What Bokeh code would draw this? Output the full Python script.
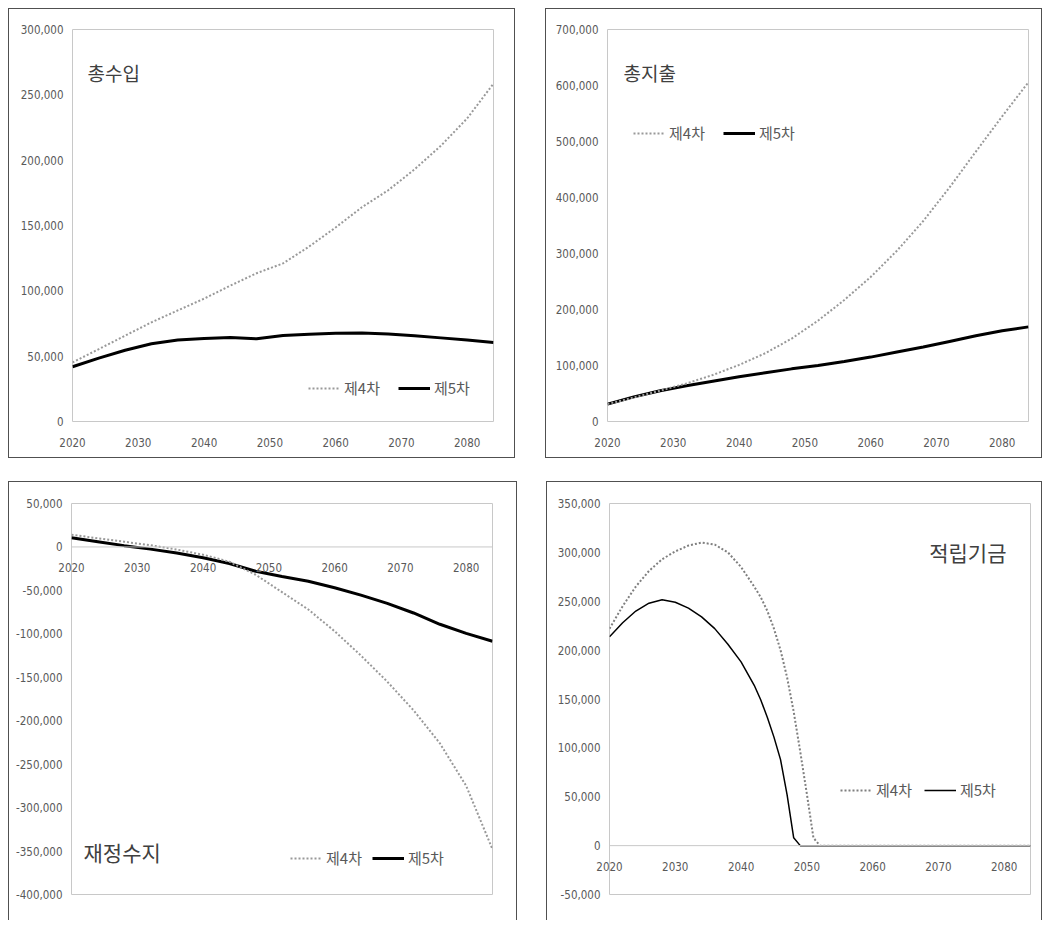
from bokeh.plotting import figure
from bokeh.models import (Range1d, FixedTicker, NumeralTickFormatter, Span, Label,
                          Legend, LegendItem)
from bokeh.layouts import row, column
from bokeh.embed import file_html
from bokeh.resources import INLINE

# ---------------- data ----------------
years = [2020, 2024, 2028, 2032, 2036, 2040, 2044, 2048, 2052, 2056, 2060,
         2064, 2068, 2072, 2076, 2080, 2084]

revenue_4th = [45200, 55400, 65700, 75900, 85000, 94000, 104000, 113500, 121000,
               134000, 148500, 164000, 177000, 193000, 211000, 232000, 258600]
revenue_5th = [41900, 48500, 54500, 59500, 62300, 63600, 64300, 63300, 65800,
               66700, 67500, 67700, 66900, 65600, 64000, 62300, 60500]

expenditure_4th = [31000, 43000, 55000, 68000, 83000, 101000, 122000, 148000, 180000,
                   217000, 258000, 305000, 358000, 418000, 482000, 545000, 606000]
expenditure_5th = [31000, 44000, 55000, 64000, 72000, 80000, 87000, 94000, 100000,
                   107000, 115000, 124000, 133000, 143000, 153000, 162000, 169000]

balance_4th = [14000, 10000, 6000, 2000, -3000, -9000, -17000, -32000, -52000,
               -72000, -97000, -125000, -155000, -188000, -226000, -275000, -348000]
balance_5th = [10500, 6000, 1500, -2500, -7000, -12500, -19000, -28000, -34000,
               -39500, -47000, -55500, -65000, -76000, -89000, -99500, -108500]

fund_years = [2020, 2022, 2024, 2026, 2028, 2030, 2032, 2034, 2036, 2038, 2040,
              2042, 2043, 2044, 2045, 2046, 2047, 2048, 2049, 2050, 2051, 2052, 2084]
fund_4th = [222000, 245000, 265000, 281000, 293000, 301000, 307000, 310000, 308000,
            300000, 285000, 265000, 254000, 240000, 222000, 200000, 172000, 137000,
            96000, 53000, 8000, 0, 0]
fund_5th = [213600, 228000, 240000, 248000, 251500, 249000, 243000, 234000, 222000,
            206000, 188000, 164000, 149000, 131000, 111000, 88000, 52000, 8000,
            0, 0, 0, 0, 0]

x_ticks = [2020, 2030, 2040, 2050, 2060, 2070, 2080]
x_tick_labels = ["2020", "2030", "2040", "2050", "2060", "2070", "2080"]
x_range_end = 2084

revenue_y_ticks = [0, 50000, 100000, 150000, 200000, 250000, 300000]
expenditure_y_ticks = [0, 100000, 200000, 300000, 400000, 500000, 600000, 700000]
balance_y_ticks = [-400000, -350000, -300000, -250000, -200000, -150000, -100000,
                   -50000, 0, 50000]
fund_y_ticks = [-50000, 0, 50000, 100000, 150000, 200000, 250000, 300000, 350000]

series_labels = ["제4차", "제5차"]
titles = ["총수입", "총지출", "재정수지", "적립기금"]

# ---------------- style ----------------
TICK_FONT = "Liberation Sans Narrow, DejaVu Sans Condensed, sans-serif"
KR_FONT = "Noto Sans CJK KR"
TICK_COLOR = "#595959"
DOT_COLOR = "#999999"
X_LABEL_GAP = 16


def make_panel(w, h, mbl, mbr, mbt, mbb, y_ticks, axis_at_zero, bottom_border=True):
    y0, y1 = min(y_ticks), max(y_ticks)
    p = figure(width=w, height=h, output_backend="svg", toolbar_location=None,
               x_range=Range1d(years[0], x_range_end),
               y_range=Range1d(y0, y1),
               min_border_left=mbl, min_border_right=mbr,
               min_border_top=mbt, min_border_bottom=mbb)
    p.background_fill_color = "white"
    p.border_fill_color = "white"
    p.outline_line_color = "#c8c8c8"
    p.outline_line_width = 1
    p.xgrid.visible = False
    p.ygrid.visible = False
    for ax in (p.xaxis[0], p.yaxis[0]):
        ax.axis_line_color = None
        ax.major_tick_line_color = None
        ax.minor_tick_line_color = None
        ax.major_tick_out = 0
        ax.major_tick_in = 0
        ax.major_label_text_font = TICK_FONT
        ax.major_label_text_font_size = "11.5px"
        ax.major_label_text_color = TICK_COLOR
    p.yaxis.ticker = FixedTicker(ticks=y_ticks)
    p.yaxis.formatter = NumeralTickFormatter(format="0,0")
    p.yaxis.major_label_standoff = 9
    p.xaxis.ticker = FixedTicker(ticks=x_ticks)
    p.xaxis.major_label_overrides = {t: l for t, l in zip(x_ticks, x_tick_labels)}
    p.xaxis.major_label_standoff = X_LABEL_GAP
    if axis_at_zero:
        # the category labels sit just under the zero line, as in the original
        frame_h = h - mbt - mbb
        zero_px = round(frame_h * (0 - y0) / (y1 - y0))
        p.xaxis.major_label_standoff = X_LABEL_GAP - zero_px
        p.add_layout(Span(location=0, dimension="width", line_color="#c8c8c8",
                          line_width=1))
    st = {"border": "1px solid #505050"}
    if not bottom_border:
        st["border-bottom"] = "none"
    p.styles = st
    return p


def add_series(p, xs, y4, y5, w5, legend_xy, spacing, dot_color=DOT_COLOR):
    r5 = p.line(xs, y5, line_color="black", line_width=w5)
    r4 = p.line(xs, y4, line_color=dot_color, line_width=2, line_dash="2 2")
    leg = Legend(items=[LegendItem(label=series_labels[0], renderers=[r4]),
                        LegendItem(label=series_labels[1], renderers=[r5])],
                 location=legend_xy, orientation="horizontal",
                 glyph_width=32, glyph_height=20, label_standoff=4,
                 spacing=spacing, padding=0, margin=0,
                 border_line_color=None, background_fill_alpha=0,
                 label_text_font=KR_FONT, label_text_font_size="15px",
                 label_text_color=TICK_COLOR)
    p.add_layout(leg)


def add_title(p, text, x, y, size, align="left"):
    p.add_layout(Label(x=x, y=y, x_units="screen", y_units="screen", text=text,
                       text_font=KR_FONT, text_font_size=size, text_color="#404040",
                       text_baseline="middle", text_align=align))


# panel 1: 총수입
p1 = make_panel(507, 450, 63, 23, 20, 38, revenue_y_ticks, False)
add_series(p1, years, revenue_4th, revenue_5th, 3, (236, 23), 18)
add_title(p1, titles[0], 15, 349, "19px")

# panel 2: 총지출
p2 = make_panel(497, 450, 61, 15, 20, 38, expenditure_y_ticks, False)
add_series(p2, years, expenditure_4th, expenditure_5th, 3, (26, 278), 18)
add_title(p2, titles[1], 16, 349, "19px")

# panel 3: 재정수지
p3 = make_panel(509, 439, 62, 26, 21, 27, balance_y_ticks, True, bottom_border=False)
add_series(p3, years, balance_4th, balance_5th, 3, (219, 26), 10)
add_title(p3, titles[2], 12, 43, "21px")

# panel 4: 적립기금
p4 = make_panel(496, 439, 62, 13, 21, 27, fund_y_ticks, True, bottom_border=False)
add_series(p4, fund_years, fund_4th, fund_5th, 1.5, (231, 94), 12, dot_color="#7f7f7f")
add_title(p4, titles[3], 397, 343, "21px", align="right")

layout = column(row(p1, p2, spacing=30), row(p3, p4, spacing=29), spacing=23,
                margin=(8, 0, 0, 8))

open("out.html", "w").write(file_html(layout, INLINE))
